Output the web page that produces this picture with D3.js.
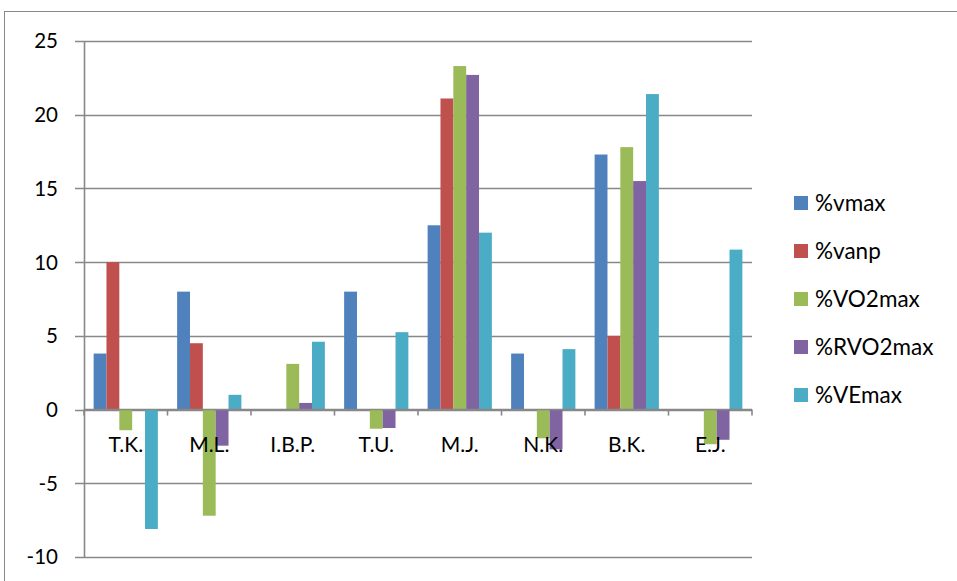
<!DOCTYPE html>
<html><head><meta charset="utf-8">
<script src="https://cdn.jsdelivr.net/npm/d3@7"></script>
<style>body{margin:0;background:#fff}svg{display:block}</style>
</head><body>
<script>
const categories = ["T.K.","M.L.","I.B.P.","T.U.","M.J.","N.K.","B.K.","E.J."];
const seriesNames = ["%vmax","%vanp","%VO2max","%RVO2max","%VEmax"];
const colors = ["#4F81BD","#C0504D","#9BBB59","#8064A2","#4BACC6"];
const vmax    = [3.8, 8.0, 0,    8.0,  12.5, 3.8,  17.3, 0];
const vanp    = [10.0, 4.5, 0,   0,    21.1, 0,    5.0,  0];
const vo2max  = [-1.4, -7.2, 3.1, -1.3, 23.3, -1.95, 17.8, -2.35];
const rvo2max = [0, -2.45, 0.45, -1.25, 22.7, -2.7, 15.5, -2.05];
const vemax   = [-8.1, 1.0, 4.6, 5.25, 12.0, 4.1, 21.4, 10.85];
const yTicks = [-10,-5,0,5,10,15,20,25];
const seriesValues = [vmax, vanp, vo2max, rvo2max, vemax];

const W = 957, H = 581;
const svg = d3.select("body").append("svg").attr("width", W).attr("height", H);
const font = "Lato, 'Open Sans', sans-serif";
const gray = "#888888";

// chart border
svg.append("rect").attr("x",4.5).attr("y",11.5).attr("width",W+20).attr("height",H+20)
  .attr("fill","none").attr("stroke",gray).attr("stroke-width",1);

const x0 = d3.scaleBand().domain(categories).range([84, 752]).paddingInner(0).paddingOuter(0);
const y = d3.scaleLinear().domain([-10, 25]).range([557, 41]);
const x1 = d3.scaleBand().domain(seriesNames).range([0, x0.bandwidth()]).paddingInner(0).paddingOuter(0.75);

// gridlines
svg.append("g").selectAll("line").data(yTicks).join("line")
  .attr("x1", 75).attr("x2", 752)
  .attr("y1", d => Math.round(y(d)) + 0.5).attr("y2", d => Math.round(y(d)) + 0.5)
  .attr("stroke", gray).attr("stroke-width", 1.6);

// y tick labels
svg.append("g").selectAll("text").data(yTicks).join("text")
  .attr("x", 58).attr("y", d => y(d)).attr("dy", "0.36em")
  .attr("text-anchor", "end").attr("font-family", font).attr("font-size", 20.5)
  .attr("fill", "#000").text(d => d);

// bars
const groups = svg.append("g").selectAll("g").data(categories).join("g")
  .attr("transform", c => `translate(${x0(c)},0)`);
groups.selectAll("rect").data((c, i) => seriesNames.map((s, j) => ({s, j, v: seriesValues[j][i]})))
  .join("rect")
  .attr("x", d => x1(d.s)).attr("width", x1.bandwidth())
  .attr("y", d => Math.min(y(d.v), y(0))).attr("height", d => Math.abs(y(d.v) - y(0)))
  .attr("fill", d => colors[d.j]);

// y axis line
svg.append("line").attr("x1", 84.5).attr("x2", 84.5).attr("y1", y(25)).attr("y2", y(-10))
  .attr("stroke", gray).attr("stroke-width", 1.6);
// x axis line at zero + ticks
svg.append("line").attr("x1", 84).attr("x2", 752).attr("y1", y(0)).attr("y2", y(0))
  .attr("stroke", gray).attr("stroke-width", 1.6);
const bounds = categories.map(c => x0(c)).concat([x0.range()[1]]);
svg.append("g").selectAll("line").data(bounds).join("line")
  .attr("x1", d => d).attr("x2", d => d).attr("y1", y(0)).attr("y2", y(0) + 6)
  .attr("stroke", gray).attr("stroke-width", 1.6);

// category labels
svg.append("g").selectAll("text").data(categories).join("text")
  .attr("x", c => x0(c) + x0.bandwidth()/2).attr("y", 452)
  .attr("text-anchor", "middle").attr("font-family", font).attr("font-size", 21)
  .attr("fill", "#000").text(c => c);

// legend
const leg = svg.append("g").selectAll("g").data(seriesNames).join("g")
  .attr("transform", (d, i) => `translate(794,${203 + i*48})`);
leg.append("rect").attr("x", 0).attr("y", -7).attr("width", 14).attr("height", 14)
  .attr("fill", (d, i) => colors[i]);
leg.append("text").attr("x", 21).attr("y", 0).attr("dy", "0.36em")
  .attr("font-family", font).attr("font-size", 22.5).attr("fill", "#000").text(d => d);
</script>
</body></html>
